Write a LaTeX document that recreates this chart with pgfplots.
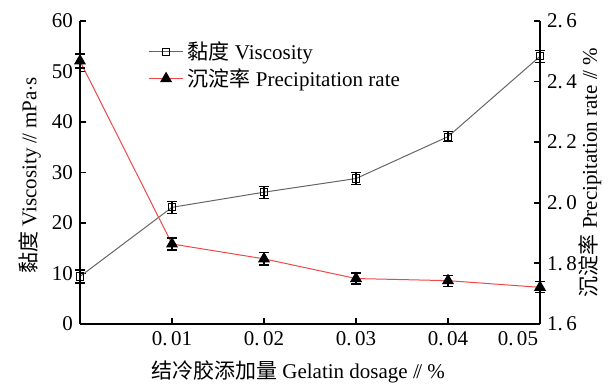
\documentclass[border=0pt]{standalone}
\usepackage{pgfplots}
\pgfplotsset{compat=1.18}
\usepackage{fontspec}
\setmainfont{Liberation Serif}
\newfontfamily\cjk{Noto Sans CJK SC}
\definecolor{visc}{HTML}{6A6464}
\definecolor{prec}{HTML}{F04848}
\begin{document}
\begin{tikzpicture}[font=\fontsize{10.5}{12}\selectfont]
\pgfplotsset{
  common/.style={
    scale only axis, width=230pt, height=151.5pt,
    xmin=0, xmax=0.05,
    scaled x ticks=false,
    axis line style={line width=1pt, -},
    tick style={line width=0.9pt, black},
    major tick length=3pt, tick align=inside,
    clip=false,
    error bars/error mark options={rotate=90, mark size=2.5pt, line width=0.6pt, black},
    error bars/error bar style={line width=0.6pt, black},
  }
}
\begin{axis}[common,
  ymin=0, ymax=60,
  axis y line*=left, axis x line*=bottom,
  xtick={0.01,0.02,0.03,0.04,0.05},
  xticklabels={0.\,01,0.\,02,0.\,03,0.\,04,\makebox[0pt][r]{0.\,05\kern1pt}},
  ytick={0,10,20,30,40,50,60},
  yticklabels={\raisebox{-5pt}{0},10,20,30,40,50,60},
  xlabel={{\cjk 结冷胶添加量} Gelatin dosage /\kern-0.12em/ \%},
  xlabel style={at={(rel axis cs:0.474,-0.158)}, anchor=center},
  ylabel={{\cjk 黏度} Viscosity /\kern-0.12em/ mPa$\cdot$s},
  ylabel style={at={(rel axis cs:-0.109,0.49)}, anchor=center},
]
\coordinate (BL) at (rel axis cs:-0.1739,-0.2079);
\coordinate (TR) at (rel axis cs:1.1478,1.0693);
\addplot[visc, line width=0.5pt, mark=square, mark size=1.8pt,
  mark options={black, line width=0.5pt, fill=white},
  error bars/.cd, y dir=both, y explicit]
  coordinates {
  (0,9.4) +- (0,1.3)
  (0.01,23.1) +- (0,1.2)
  (0.02,26.1) +- (0,1.2)
  (0.03,28.8) +- (0,1.2)
  (0.04,37.1) +- (0,1.0)
  (0.05,53.0) +- (0,1.2)
  };
\end{axis}
\begin{axis}[common,
  ymin=1.6, ymax=2.6,
  axis y line*=right, axis x line=none,
  ytick={1.6,1.8,2.0,2.2,2.4,2.6},
  yticklabels={1.\,6,1.\,8,2.\,0,2.\,2,2.\,4,2.\,6},
  ylabel={{\cjk 沉淀率} Precipitation rate /\kern-0.12em/ \%},
  ylabel style={at={(rel axis cs:1.109,0.50)}, anchor=center},
  legend style={draw=none, fill=none, at={(rel axis cs:0.135,0.96)}, anchor=north west,
    row sep=-1pt, font=\fontsize{10.5}{12}\selectfont},
  legend cell align=left,
]
\addlegendimage{visc, line width=0.5pt, mark=square, mark size=1.8pt,
  mark options={black, line width=0.5pt, fill=white}}
\addlegendentry{{\cjk 黏度} Viscosity}
\addplot[prec, line width=0.5pt, mark=triangle*, mark size=3pt,
  mark options={black},
  error bars/.cd, y dir=both, y explicit]
  coordinates {
  (0,2.468) +- (0,0.023)
  (0.01,1.864) +- (0,0.02)
  (0.02,1.815) +- (0,0.02)
  (0.03,1.750) +- (0,0.018)
  (0.04,1.743) +- (0,0.018)
  (0.05,1.721) +- (0,0.018)
  };
\addlegendentry{{\cjk 沉淀率} Precipitation rate}
\end{axis}
\pgfresetboundingbox
\useasboundingbox (BL) rectangle (TR);
\end{tikzpicture}
\end{document}
